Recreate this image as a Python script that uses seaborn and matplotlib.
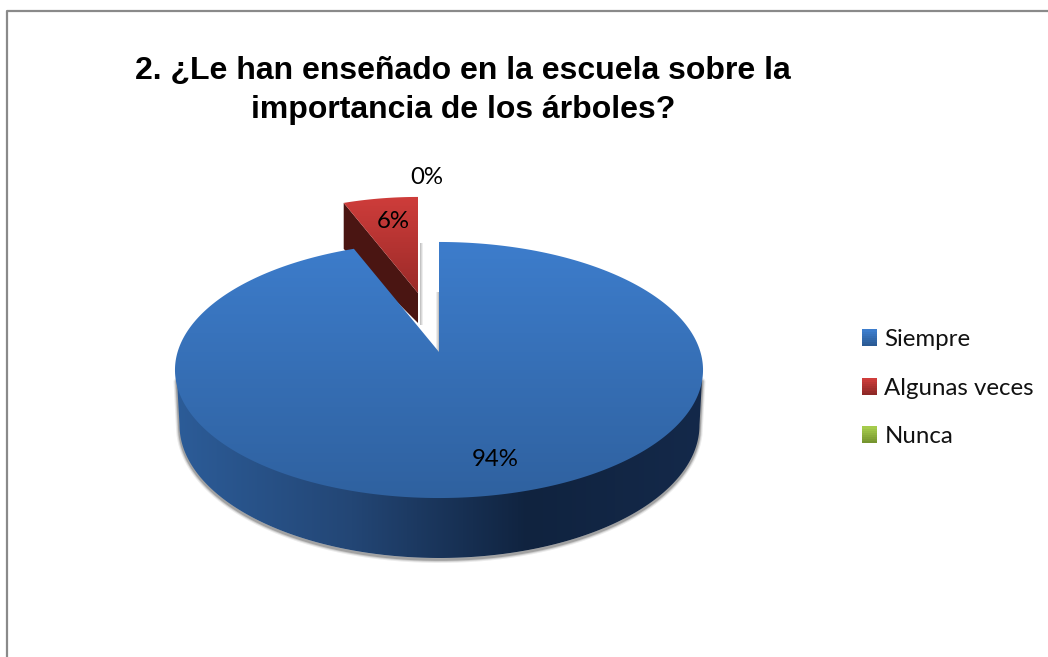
import numpy as np
import matplotlib
matplotlib.use("Agg")
import matplotlib.pyplot as plt
import seaborn as sns
from matplotlib.legend_handler import HandlerBase
from matplotlib.patches import Patch, Polygon, Rectangle

categories = ["Siempre", "Algunas veces", "Nunca"]
values = [94, 6, 0]
title_lines = ["2. ¿Le han enseñado en la escuela sobre la", "importancia de los árboles?"]

sns.set_theme(style="white")
plt.rcParams["font.family"] = ["Lato", "DejaVu Sans"]

blue_top = sns.blend_palette(["#3D7DCC", "#2F619F"], as_cmap=True)
blue_side = sns.blend_palette(["#2C5C98", "#234675", "#10233F", "#14294A"], as_cmap=True)
red_top = sns.blend_palette(["#CF3D3B", "#9A2A28"], as_cmap=True)
legend_cols = [("#3D7DCC", "#2A5A94"), ("#CF3D3B", "#8E2826"), ("#A5CB4C", "#76952F")]


class GradientHandler(HandlerBase):
    def create_artists(self, legend, orig, x0, y0, width, height, fontsize, trans):
        cols = sns.blend_palette(orig.cols, 8)[::-1]
        h = height / 8
        return [Rectangle((x0, y0 + i * h), width, h * 1.1, fc=c, ec="none", transform=trans)
                for i, c in enumerate(cols)]


def project(theta, cx=439, cy=352, scale=1.0, k=0.1406):
    # pie angle clockwise from 12 o'clock, seen in perspective
    u, v = np.sin(theta), np.cos(theta)
    d = 1 + k * v
    return cx + scale * 261.4 * u / d, cy - scale * 125.5 * v / d


def gradient(ax, poly, cmap, box, horizontal=False, zorder=2):
    vals = np.linspace(0, 1, 256)
    img = vals[None, :] if horizontal else vals[:, None]
    im = ax.imshow(img, cmap=cmap, extent=(box[0], box[1], box[3], box[2]),
                   aspect="auto", zorder=zorder, vmin=0, vmax=1)
    patch = Polygon(poly, closed=True, transform=ax.transData, fc="none", ec="none")
    ax.add_patch(patch)
    im.set_clip_path(patch)


fig = plt.figure(figsize=(10.48, 6.57), dpi=100)
ax = fig.add_axes([0, 0, 1, 1])

# pie angles from the shares
edges = np.cumsum([0] + values) / sum(values) * 2 * np.pi
blue_t = np.linspace(edges[0], edges[1], 400)
red_t = np.linspace(edges[1], edges[2], 60)

bx, by = project(blue_t)
blue_poly = np.column_stack([np.r_[439, bx], np.r_[352, by]])

# side wall: straight drop from the widest point, then the lower rim
rim = np.linspace(0, np.pi, 300)
low_x = 439.5 + 260 * np.cos(rim)
low_y = 425 + 133 * np.sin(rim)
side_x = np.r_[702, low_x, 177]
side_y = np.r_[380, low_y, 380]
side_poly = np.column_stack([side_x, side_y])

# soft shadow under the disc
for lw, a in [(5, 0.10), (3.4, 0.18), (2, 0.3)]:
    ax.plot(side_x, side_y + 1.5, color="#444444", lw=lw, alpha=a, zorder=1)
gradient(ax, side_poly, blue_side, (176, 704, 360, 560), horizontal=True, zorder=2)

# exploded slice
rx, ry = project(red_t, cx=418, cy=293, scale=0.873)
ax.add_patch(Polygon(np.column_stack([[418, 418, rx[0], rx[0]], [293, 323, ry[0] + 46, ry[0]]]),
                     fc="#4A1512", ec="none", zorder=3))
gradient(ax, np.column_stack([np.r_[418, rx], np.r_[293, ry]]), red_top, (340, 425, 195, 295), zorder=4)
for i, a in enumerate([0.35, 0.22, 0.1]):
    ax.add_patch(Rectangle((419.5 + i, 243), 1.2, 82, fc="#555555", ec="none", alpha=a, zorder=3))
    ax.add_patch(Rectangle((438 - i, 292), 1.2, 60, fc="#555555", ec="none", alpha=a, zorder=3))

gradient(ax, blue_poly, blue_top, (170, 710, 240, 500), zorder=5)

for line, y in zip(title_lines, [71, 110]):
    ax.text(463, y, line, ha="center", va="center", fontsize=23, fontweight="bold",
            family="Liberation Sans", color="black", zorder=6)
ax.text(427, 178, f"{values[2]}%", ha="center", va="center", fontsize=17.3, color="black", zorder=6)
ax.text(393, 221, f"{values[1]}%", ha="center", va="center", fontsize=17.3, color="black", zorder=6)
ax.text(495, 460, f"{values[0]}%", ha="center", va="center", fontsize=17.3, color="black", zorder=6)

handles = []
for cat, cols in zip(categories, legend_cols):
    h = Patch(label=cat)
    h.cols = cols
    handles.append(h)
ax.legend(handles=handles, handler_map={Patch: GradientHandler()}, loc="upper left",
          bbox_to_anchor=(862 / 1048, 1 - 329 / 657), bbox_transform=fig.transFigure,
          frameon=False, fontsize=17.3, handlelength=0.63, handleheight=0.68, handletextpad=0.3,
          labelspacing=1.145, borderaxespad=0, borderpad=0, labelcolor="#111111")

# chart frame, cut off by the image on the right and at the bottom
ax.plot([7, 7, 1048], [657, 10.5, 10.5], color="#8A8A8A", lw=1.6, zorder=7)

ax.set_xlim(0, 1048)
ax.set_ylim(657, 0)
ax.axis("off")
fig.savefig("out.png", dpi=100)
